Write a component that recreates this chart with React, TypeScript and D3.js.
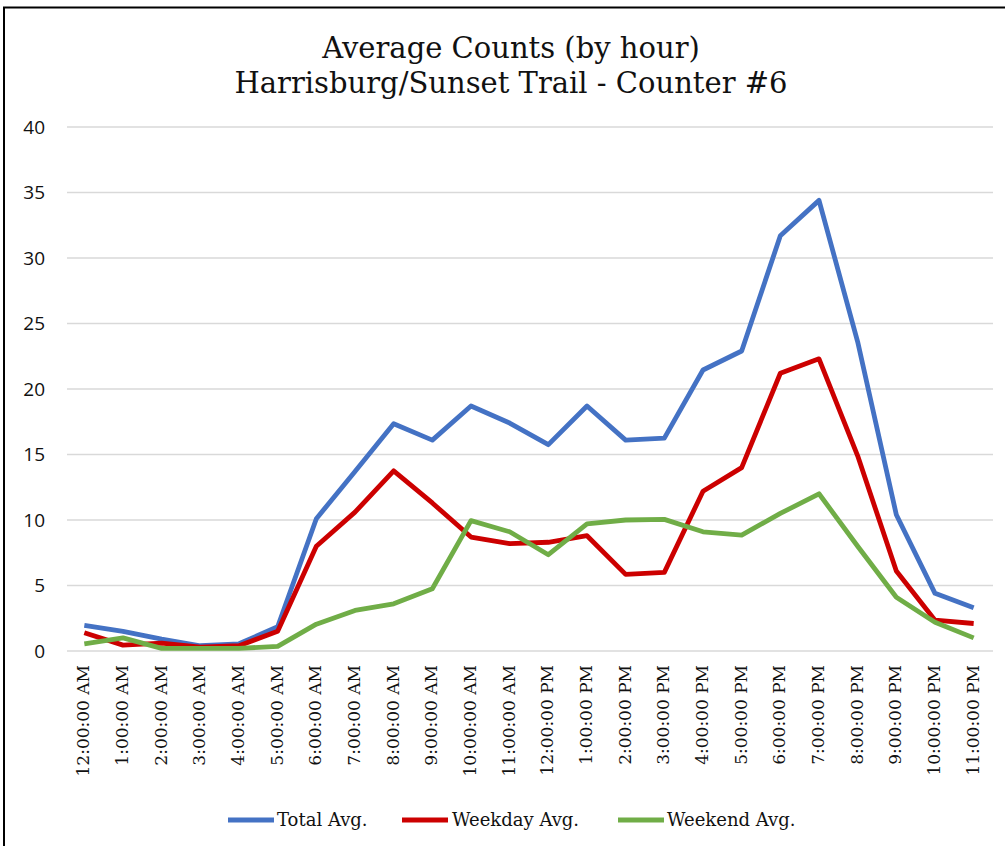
import React from "react";
import * as d3 from "d3";

const hours = [
  "12:00:00 AM", "1:00:00 AM", "2:00:00 AM", "3:00:00 AM", "4:00:00 AM", "5:00:00 AM",
  "6:00:00 AM", "7:00:00 AM", "8:00:00 AM", "9:00:00 AM", "10:00:00 AM", "11:00:00 AM",
  "12:00:00 PM", "1:00:00 PM", "2:00:00 PM", "3:00:00 PM", "4:00:00 PM", "5:00:00 PM",
  "6:00:00 PM", "7:00:00 PM", "8:00:00 PM", "9:00:00 PM", "10:00:00 PM", "11:00:00 PM",
];

const totalAvg = [1.95, 1.5, 0.9, 0.4, 0.55, 1.85, 10.1, 13.7, 17.35, 16.1, 18.7, 17.4, 15.75, 18.7, 16.1, 16.25, 21.45, 22.9, 31.7, 34.4, 23.6, 10.4, 4.4, 3.3];
const weekdayAvg = [1.4, 0.45, 0.6, 0.3, 0.4, 1.5, 8.0, 10.6, 13.75, 11.3, 8.7, 8.2, 8.3, 8.8, 5.85, 6.0, 12.2, 14.0, 21.2, 22.3, 14.9, 6.1, 2.35, 2.1];
const weekendAvg = [0.55, 1.0, 0.2, 0.2, 0.2, 0.35, 2.05, 3.1, 3.6, 4.75, 9.95, 9.1, 7.35, 9.7, 10.0, 10.05, 9.1, 8.85, 10.5, 12.0, 8.0, 4.1, 2.2, 1.0];

const yTicks = [0, 5, 10, 15, 20, 25, 30, 35, 40];

const seriesNames = ["Total Avg.", "Weekday Avg.", "Weekend Avg."];
const seriesColors = ["#4472C4", "#CC0000", "#70AD47"];
const seriesValues = [totalAvg, weekdayAvg, weekendAvg];

const titleLines = ["Average Counts (by hour)", "Harrisburg/Sunset Trail - Counter #6"];

export default function App() {
  const W = 1005;
  const H = 846;
  const left = 65;
  const right = 993;
  const top = 127;
  const bottom = 651;

  const x = d3.scaleBand<string>().domain(hours).range([left, right]).padding(0);
  const cx = (h: string) => (x(h) as number) + x.bandwidth() / 2;
  const y = d3.scaleLinear().domain([0, 40]).range([bottom, top]);

  const line = d3
    .line<number>()
    .x((_, i) => cx(hours[i]))
    .y((d) => y(d));

  const serif = "'DejaVu Serif', serif";
  const sans = "'Open Sans', sans-serif";

  const legendItems = [
    { lx: 228, tx: 277 },
    { lx: 402, tx: 452 },
    { lx: 618, tx: 667 },
  ];

  return (
    <svg
      width={W}
      height={H}
      style={{ position: "absolute", left: 0, top: 0, background: "#fff" }}
    >
      <rect x={0} y={0} width={W} height={H} fill="#fff" />
      <rect x={4} y={7.5} width={W + 20} height={H + 20} fill="none" stroke="#000" strokeWidth={2} />

      {titleLines.map((t, i) => (
        <text
          key={t}
          x={511}
          y={58 + i * 35}
          textAnchor="middle"
          fontFamily={serif}
          fontSize={29}
          fill="#111"
        >
          {t}
        </text>
      ))}

      {yTicks.map((v) => (
        <g key={v}>
          <line x1={left + 2} x2={right} y1={y(v)} y2={y(v)} stroke="#D9D9D9" strokeWidth={1.5} />
          <text
            x={45}
            y={y(v)}
            dy="0.36em"
            textAnchor="end"
            fontFamily={sans}
            fontSize={19}
            fill="#111"
          >
            {v}
          </text>
        </g>
      ))}

      {hours.map((h) => (
        <text
          key={h}
          transform={`translate(${cx(h) - 1},665) rotate(-90)`}
          textAnchor="end"
          dy="0.36em"
          fontFamily={serif}
          fontSize={17}
          fill="#111"
        >
          {h}
        </text>
      ))}

      {seriesValues.map((vals, i) => (
        <path
          key={seriesNames[i]}
          d={line(vals) as string}
          fill="none"
          stroke={seriesColors[i]}
          strokeWidth={4.8}
          strokeLinejoin="round"
          strokeLinecap="butt"
        />
      ))}

      {seriesNames.map((n, i) => (
        <g key={n}>
          <line
            x1={legendItems[i].lx}
            x2={legendItems[i].lx + 46}
            y1={820}
            y2={820}
            stroke={seriesColors[i]}
            strokeWidth={4.8}
          />
          <text
            x={legendItems[i].tx}
            y={820}
            dy="0.36em"
            fontFamily={serif}
            fontSize={18}
            fill="#111"
          >
            {n}
          </text>
        </g>
      ))}
    </svg>
  );
}
